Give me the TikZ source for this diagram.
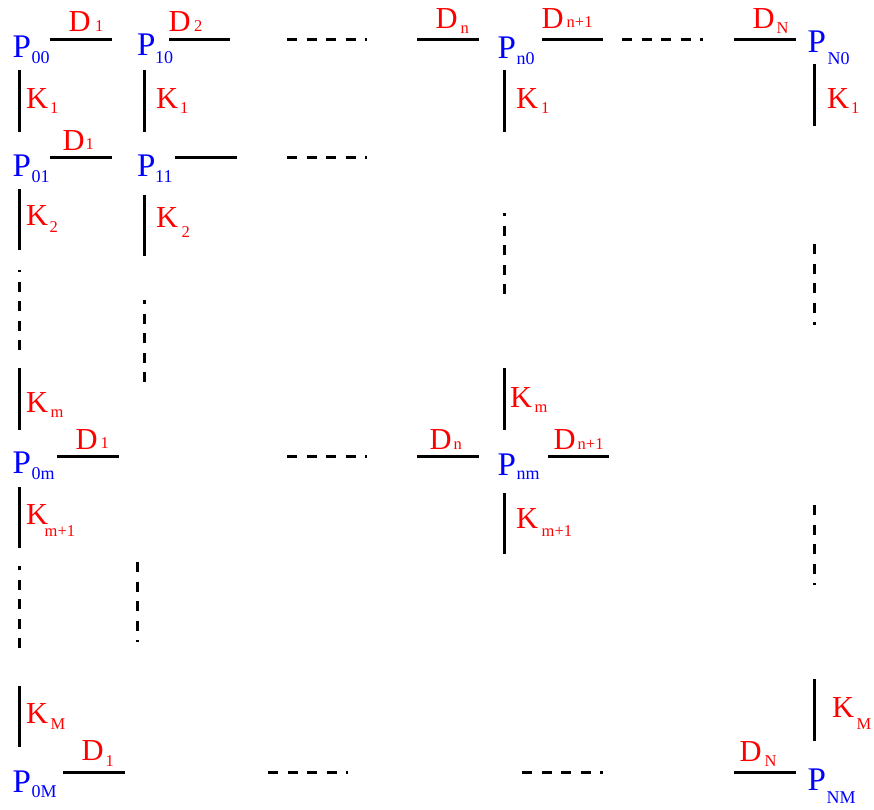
\documentclass[tikz,border=0pt]{standalone}
\usepackage{fontspec}
\setmainfont{Liberation Serif}
\begin{document}
\begin{tikzpicture}[x=1pt,y=-1pt,
  pn/.style={anchor=base west, inner sep=0pt, text=blue, font=\fontsize{33}{33}\selectfont},
  ps/.style={anchor=base west, inner sep=0pt, text=blue, font=\fontsize{18}{18}\selectfont},
  lb/.style={anchor=base west, inner sep=0pt, text=red, font=\fontsize{30.5}{30.5}\selectfont},
  ls/.style={anchor=base west, inner sep=0pt, text=red, font=\fontsize{16.5}{16.5}\selectfont},
  seg/.style={line width=3pt},
  dsh/.style={line width=3pt, dash pattern=on 10pt off 9.5pt}]
\useasboundingbox (0,0) rectangle (874,809);
% ---------- P labels ----------
\node[pn] (p00) at (12.5,57) {P};  \node[ps] (p00s) at (31.5,63) {00};
\node[pn] (p10) at (137,55) {P};   \node[ps] (p10s) at (155,63) {10};
\node[pn] (pn0) at (497.5,58) {P}; \node[ps] (pn0s) at (516.5,64) {n0};
\node[pn] (pN0) at (807.5,52) {P}; \node[ps] (pN0s) at (827.5,64) {N0};
\node[pn] (p01) at (12.5,176) {P}; \node[ps] (p01s) at (31.5,182) {01};
\node[pn] (p11) at (137,176) {P};  \node[ps] (p11s) at (155,182) {11};
\node[pn] (p0m) at (12.5,473) {P}; \node[ps] (p0ms) at (31.5,479) {0m};
\node[pn] (pnm) at (497.5,475) {P}; \node[ps] (pnms) at (516.5,479) {nm};
\node[pn] (p0M) at (12.5,792) {P}; \node[ps] (p0Ms) at (31.5,797) {0M};
\node[pn] (pNM) at (807.5,790) {P}; \node[ps] (pNMs) at (826.5,803) {NM};
% ---------- D labels ----------
\node[lb] (d1a) at (68.5,31) {D};  \node[ls] (d1as) at (95,31) {1};
\node[lb] (d2a) at (168.5,31) {D}; \node[ls] (d2as) at (194,31) {2};
\node[lb] (dna) at (435.5,28) {D}; \node[ls] (dnas) at (460.5,33) {n};
\node[lb] (dn1a) at (541.5,28) {D}; \node[ls] (dn1as) at (566.5,27) {n+1};
\node[lb] (dNa) at (752.5,28) {D}; \node[ls] (dNas) at (776.5,33) {N};
\node[lb] (d1b) at (62.5,150) {D}; \node[ls] (d1bs) at (85.5,149) {1};
\node[lb] (d1c) at (75.5,449) {D}; \node[ls] (d1cs) at (100.5,448) {1};
\node[lb] (dnc) at (429.5,449) {D}; \node[ls] (dncs) at (453.5,449) {n};
\node[lb] (dn1c) at (553.5,449) {D}; \node[ls] (dn1cs) at (577.5,449) {n+1};
\node[lb] (d1d) at (81.5,760) {D}; \node[ls] (d1ds) at (105.5,766) {1};
\node[lb] (dNd) at (739.5,761) {D}; \node[ls] (dNds) at (764.5,766) {N};
% ---------- K labels ----------
\node[lb] (k1a) at (26,108) {K};  \node[ls] (k1as) at (50,113) {1};
\node[lb] (k1b) at (156,108) {K}; \node[ls] (k1bs) at (180,113) {1};
\node[lb] (k1c) at (516,108) {K}; \node[ls] (k1cs) at (541,113) {1};
\node[lb] (k1d) at (827,108) {K}; \node[ls] (k1ds) at (851,113) {1};
\node[lb] (k2a) at (26,225) {K};  \node[ls] (k2as) at (49.5,232) {2};
\node[lb] (k2b) at (156,227) {K}; \node[ls] (k2bs) at (181.5,237) {2};
\node[lb] (kma) at (26,412) {K};  \node[ls] (kmas) at (50.5,417) {m};
\node[lb] (kmc) at (510,407) {K}; \node[ls] (kmcs) at (534.5,412) {m};
\node[lb] (km1a) at (26,524) {K}; \node[ls] (km1as) at (44.5,536) {m+1};
\node[lb] (km1c) at (516,528) {K}; \node[ls] (km1cs) at (541.5,536) {m+1};
\node[lb] (kMa) at (26,723) {K};  \node[ls] (kMas) at (50.5,729) {M};
\node[lb] (kMd) at (832,717) {K}; \node[ls] (kMds) at (856.5,729) {M};
% ---------- horizontal solid segments ----------
\draw[seg] (50,39) -- (112,39);
\draw[seg] (169,39) -- (230,39);
\draw[seg] (417,39) -- (479,39);
\draw[seg] (542,39) -- (603,39);
\draw[seg] (734,39) -- (796,39);
\draw[seg] (50,157) -- (112,157);
\draw[seg] (175,157) -- (237,157);
\draw[seg] (57,456) -- (119,456);
\draw[seg] (417,456) -- (479,456);
\draw[seg] (548,456) -- (609,456);
\draw[seg] (63,772) -- (125,772);
\draw[seg] (734,772) -- (796,772);
% ---------- horizontal dashed ----------
\draw[dsh] (287,39) -- (367,39);
\draw[dsh] (622,39) -- (703,39);
\draw[dsh] (287,157) -- (367,157);
\draw[dsh] (287,456) -- (367,456);
\draw[dsh] (268,772) -- (348,772);
\draw[dsh] (522,772) -- (603,772);
% ---------- vertical solid segments ----------
\draw[seg] (19,70) -- (19,132);
\draw[seg] (19,189) -- (19,250);
\draw[seg] (19,368) -- (19,430);
\draw[seg] (19,487) -- (19,548);
\draw[seg] (19,686) -- (19,747);
\draw[seg] (144,70) -- (144,132);
\draw[seg] (144,195) -- (144,256);
\draw[seg] (504,70) -- (504,132);
\draw[seg] (504,368) -- (504,430);
\draw[seg] (504,493) -- (504,554);
\draw[seg] (814.5,64) -- (814.5,126);
\draw[seg] (814.5,679) -- (814.5,741);
% ---------- vertical dashed ----------
\draw[dsh] (19,350) -- (19,270);
\draw[dsh] (19,648) -- (19,566);
\draw[dsh] (144,382) -- (144,300);
\draw[dsh] (137,562) -- (137,642);
\draw[dsh] (504,294) -- (504,213);
\draw[dsh] (814.5,244) -- (814.5,325);
\draw[dsh] (814.5,505) -- (814.5,585);
\end{tikzpicture}
\end{document}
